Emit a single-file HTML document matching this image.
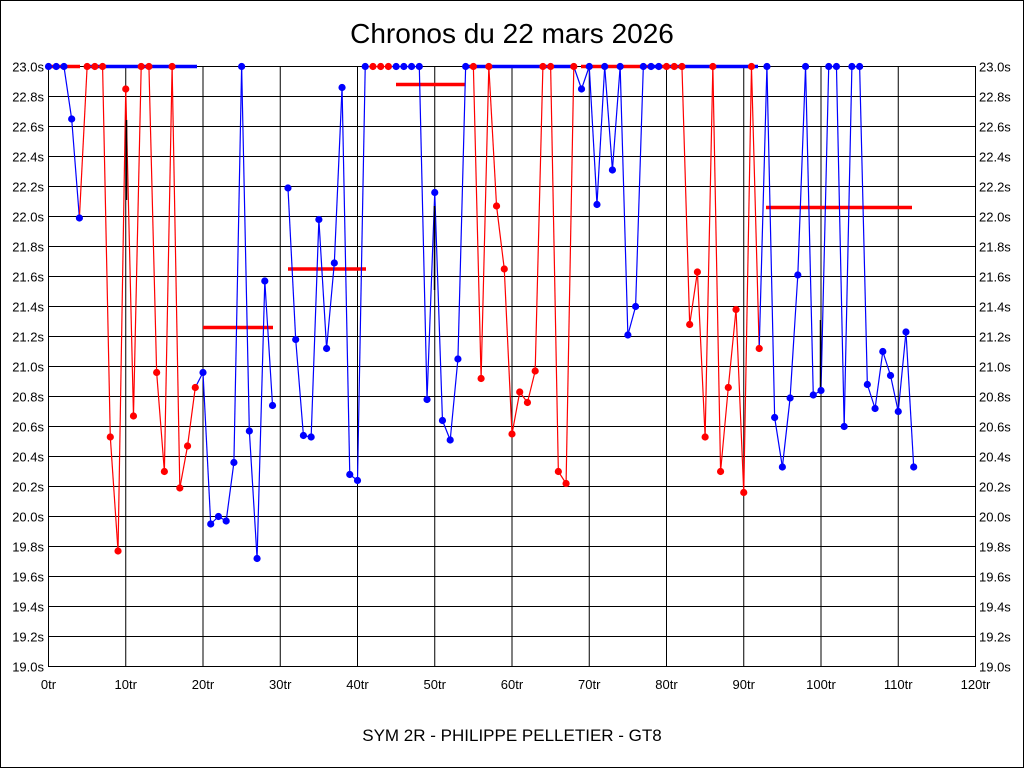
<!DOCTYPE html>
<html><head><meta charset="utf-8"><style>
html,body{margin:0;padding:0;background:#fff}
svg{display:block}
text{font-family:"Liberation Sans",sans-serif}
</style></head><body>
<svg id="s" width="1024" height="768" xmlns="http://www.w3.org/2000/svg">
<rect x="0.5" y="0.5" width="1023" height="767" fill="#fff" stroke="#000"/>
<text x="512" y="43" font-size="28" text-anchor="middle">Chronos du 22 mars 2026</text>
<text x="512" y="741" font-size="17" text-anchor="middle">SYM 2R - PHILIPPE PELLETIER - GT8</text>
<g id="g"></g>
</svg>
<script>
var g=document.getElementById('g'),h='';
var X0=48.5,PX=927/120,Y0=666.5,PY=150;
function X(i){return X0+i*PX}
function Y(v){return Y0-(v-19)*PY}
// grid
for(var k=0;k<=20;k++){var v=19+k*0.2,y=Y(v);
h+='<line x1="'+X0+'" x2="975.5" y1="'+y+'" y2="'+y+'" stroke="#000"/>';
var t=v.toFixed(1)+'s';
h+='<text x="44" y="'+(y+5)+'" font-size="13" text-anchor="end">'+t+'</text>';
h+='<text x="979" y="'+(y+5)+'" font-size="13">'+t+'</text>';}
for(var k=0;k<=12;k++){var x=X(k*10);
h+='<line x1="'+x+'" x2="'+x+'" y1="66.5" y2="666.5" stroke="#000"/>';
h+='<text x="'+x+'" y="689" font-size="13" text-anchor="middle">'+(k*10)+'tr</text>';}
h+='<rect x="'+X0+'" y="66.5" width="927" height="600" fill="none" stroke="#000"/>';
var R='#f00',B='#00f';
// thick top/avg lines
var th=[[48,80,23,R],[88,197,23,B],[203,273,21.26,R],[288,366,21.65,R],[396,465,22.88,R],[465,575,23,B],[581,648,23,R],[648,658,23,B],[660,668,23,R],[668,758,23,B],[766,912,22.06,R]];
th.forEach(function(a){var y=Y(a[2]);h+='<line x1="'+a[0]+'" x2="'+a[1]+'" y1="'+y+'" y2="'+y+'" stroke="'+a[3]+'" stroke-width="3.5"/>';});
// data: [value,color]; null = gap
var T=23,d=[[T,B],[T,B],[T,B],[22.65,B],[21.99,B],[T,R],[T,R],[T,R],[20.53,R],[19.77,R],[22.85,R],[20.67,R],[T,R],[T,R],[20.96,R],[20.30,R],[T,R],[20.19,R],[20.47,R],[20.86,R],
[20.96,B],[19.95,B],[20.00,B],[19.97,B],[20.36,B],[T,B],[20.57,B],[19.72,B],[21.57,B],[20.74,B],null,
[22.19,B],[21.18,B],[20.54,B],[20.53,B],[21.98,B],[21.12,B],[21.69,B],[22.86,B],[20.28,B],[20.24,B],[T,B],[T,R],[T,R],[T,R],[T,B],[T,B],[T,B],[T,B],[20.78,B],[22.16,B],[20.64,B],[20.51,B],[21.05,B],[T,B],
[T,R],[20.92,R],[T,R],[22.07,R],[21.65,R],[20.55,R],[20.83,R],[20.76,R],[20.97,R],[T,R],[T,R],[20.30,R],[20.22,R],[T,R],
[22.85,B],[T,B],[22.08,B],[T,B],[22.31,B],[T,B],[21.21,B],[21.40,B],[T,B],[T,B],[T,B],[T,R],[T,R],[T,R],[21.28,R],[21.63,R],[20.53,R],[T,R],[20.30,R],[20.86,R],[21.38,R],[20.16,R],[T,R],[21.12,R],
[T,B],[20.66,B],[20.33,B],[20.79,B],[21.61,B],[T,B],[20.81,B],[20.84,B],[T,B],[T,B],[20.60,B],[T,B],[T,B],[20.88,B],[20.72,B],[21.10,B],[20.94,B],[20.70,B],[21.23,B],[20.33,B]];
for(var i=1;i<d.length;i++){if(!d[i]||!d[i-1])continue;
h+='<line x1="'+X(i-1)+'" y1="'+Y(d[i-1][0])+'" x2="'+X(i)+'" y2="'+Y(d[i][0])+'" stroke="'+d[i][1]+'" stroke-width="1.2"/>';}
// black artifacts
h+='<line x1="126.5" x2="126.5" y1="120" y2="200" stroke="#000" stroke-width="1.5"/>';
h+='<line x1="434.5" x2="434.5" y1="206" y2="290" stroke="#000" stroke-width="1.5"/>';
h+='<line x1="820.5" x2="820.5" y1="320" y2="390" stroke="#000" stroke-width="1.5"/>';
for(var i=0;i<d.length;i++){if(!d[i])continue;
h+='<circle cx="'+X(i)+'" cy="'+Y(d[i][0])+'" r="3.6" fill="'+d[i][1]+'"/>';}
g.innerHTML=h;
</script>
</body></html>
